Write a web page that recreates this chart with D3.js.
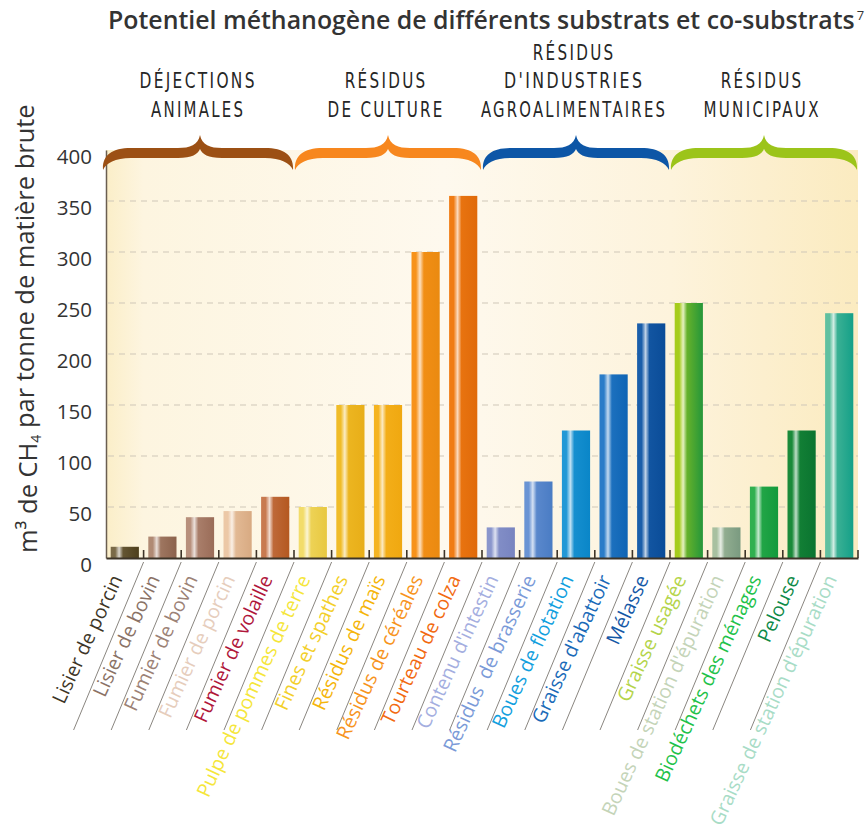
<!DOCTYPE html>
<html>
<head>
<meta charset="utf-8">
<script src="https://cdn.jsdelivr.net/npm/d3@7"></script>
<style>
  body { margin: 0; background: #fff; }
  svg { display: block; }
</style>
</head>
<body>
<svg id="chart" width="867" height="837"></svg>
<script>
// Substrates, in display order
const categories = [
  "Lisier de porcin", "Lisier de bovin", "Fumier de bovin", "Fumier de porcin", "Fumier de volaille",
  "Pulpe de pommes de terre", "Fines et spathes", "Résidus de maïs", "Résidus de céréales", "Tourteau de colza",
  "Contenu d'intestin", "Résidus\u00a0 de brasserie", "Boues de flotation", "Graisse d'abattoir", "Mélasse",
  "Graisse usagée", "Boues de station d'épuration", "Biodéchets des ménages", "Pelouse", "Graisse de station d'épuration"
];

// m³ CH4 per tonne of raw matter
const values = [11, 21, 40, 46, 60, 50, 150, 150, 300, 355, 30, 75, 125, 180, 230, 250, 30, 70, 125, 240];

// Bar fill: left tone and right tone of each cylinder-like bar
const barLeft = [
  "#7a6a48", "#b08a74", "#b8907c", "#ecc8a6", "#c87a50",
  "#f2dc6a", "#f0bc28", "#f5b420", "#f7921a", "#f07c14",
  "#8a96cc", "#6a94d4", "#2298d6", "#2a7cc8", "#1a5eaa",
  "#a6cc1c", "#a8c0a0", "#30b050", "#1a8a3a", "#60c0a0"
];
const barRight = [
  "#4d3f1c", "#8c624c", "#9a6c58", "#d8aa82", "#b45820",
  "#e8c840", "#e8ae18", "#f0a810", "#ea8a10", "#e06a0a",
  "#7884c0", "#4a7cc4", "#0a86c8", "#0e64b4", "#0a4c98",
  "#24963a", "#7a9a80", "#129a3c", "#0a7430", "#14a088"
];
const labelColors = [
  "#3d3526", "#8a7266", "#9c8276", "#e6cdbc", "#b0163a",
  "#f5e63a", "#f3cf2a", "#f5b50a", "#f7941d", "#f26a10",
  "#a4aee0", "#7a9ad8", "#12a0de", "#1a6ab8", "#1458a6",
  "#b4d44a", "#c4d4b8", "#1ec24a", "#0e8a48", "#a8dcc6"
];

// Substrate families (each spans five bars)
const groupLines = [
  ["DÉJECTIONS", "ANIMALES"],
  ["RÉSIDUS", "DE CULTURE"],
  ["RÉSIDUS", "D'INDUSTRIES", "AGROALIMENTAIRES"],
  ["RÉSIDUS", "MUNICIPAUX"]
];
const groupSize = [5, 5, 5, 5];
const groupColors = ["#9c5014", "#f7871e", "#0d56a6", "#9cc41a"];

const yTicks = [0, 50, 100, 150, 200, 250, 300, 350, 400];

const titleText = "Potentiel méthanogène de différents substrats et co-substrats";
const titleNote = "7";

// ---------------------------------------------------------------
const svg = d3.select("#chart");
const defs = svg.append("defs");
const plot = { left: 106, right: 858, top: 150, bottom: 558 };

const x = d3.scaleBand()
  .domain(categories)
  .range([plot.left, plot.right])
  .paddingInner(0.25)
  .paddingOuter(0.125);

const y = d3.scaleLinear().domain([0, 400]).range([plot.bottom, plot.top]);

const halfGap = x.step() * x.paddingInner() / 2;
const rightEdge = c => x(c) + x.bandwidth() + halfGap;
const leftEdge = c => x(c) - halfGap;

// Cream panel behind the bars
const bg = defs.append("linearGradient").attr("id", "panelBg")
  .attr("x1", 0).attr("x2", 1).attr("y1", 0).attr("y2", 0);
[[0, "#fbeec8"], [0.05, "#fdf5e0"], [0.45, "#fef9ee"], [0.75, "#fdf3dc"], [1, "#fbebc0"]]
  .forEach(([o, c]) => bg.append("stop").attr("offset", o).attr("stop-color", c));

svg.append("rect")
  .attr("x", plot.left).attr("y", y(400))
  .attr("width", plot.right - plot.left)
  .attr("height", y(0) - y(400))
  .attr("fill", "url(#panelBg)");

// Dashed gridlines
svg.append("g")
  .selectAll("line")
  .data(yTicks.filter(v => v > 0 && v < 400))
  .join("line")
  .attr("x1", plot.left + 2).attr("x2", plot.right)
  .attr("y1", d => y(d)).attr("y2", d => y(d))
  .attr("stroke", "#cfc7b8")
  .attr("stroke-width", 1)
  .attr("stroke-dasharray", "6,5");

// Bar gradients with a light highlight stripe
categories.forEach((c, i) => {
  const g = defs.append("linearGradient").attr("id", "bar" + i)
    .attr("x1", 0).attr("x2", 1).attr("y1", 0).attr("y2", 0);
  const l = barLeft[i], r = barRight[i];
  const hi = d3.interpolateRgb(l, "#ffffff")(0.72);
  const mid = d3.interpolateRgb(l, r)(0.5);
  [[0, l], [0.16, l], [0.3, hi], [0.44, mid], [1, r]]
    .forEach(([o, col]) => g.append("stop").attr("offset", o).attr("stop-color", col));
});

svg.append("g")
  .selectAll("rect")
  .data(categories)
  .join("rect")
  .attr("x", d => x(d))
  .attr("y", (d, i) => y(values[i]))
  .attr("width", x.bandwidth())
  .attr("height", (d, i) => y(0) - y(values[i]))
  .attr("fill", (d, i) => `url(#bar${i})`);

// Y axis
const yAxis = svg.append("g")
  .attr("transform", `translate(${plot.left},0)`)
  .call(d3.axisLeft(y).tickValues(yTicks).tickSize(0).tickSizeOuter(0).tickPadding(14));
yAxis.select(".domain").attr("stroke", "#6a5e50").attr("stroke-width", 1.5);
yAxis.selectAll("text")
  .attr("y", 7)
  .attr("fill", "#333")
  .style("font-family", "'Open Sans', sans-serif")
  .style("font-size", "20.5px");

// X axis with slanted labels
const xAxis = svg.append("g")
  .attr("transform", `translate(0,${plot.bottom})`)
  .call(d3.axisBottom(x).tickSize(0).tickSizeOuter(0));
xAxis.select(".domain").attr("stroke", "#3d3428").attr("stroke-width", 2);
xAxis.selectAll("text")
  .attr("x", 0).attr("y", 0).attr("dy", 0)
  .attr("transform", "translate(-2,21) rotate(-65)")
  .style("text-anchor", "end")
  .style("font-family", "'Open Sans', sans-serif")
  .style("font-size", "19.5px")
  .attr("fill", (d, i) => labelColors[i]);

// Small ticks between bars
svg.append("g")
  .selectAll("line")
  .data(categories)
  .join("line")
  .attr("x1", d => rightEdge(d)).attr("x2", d => rightEdge(d))
  .attr("y1", plot.bottom).attr("y2", plot.bottom - 8)
  .attr("stroke", "#3d3428").attr("stroke-width", 1.6);

// Slanted separators between labels
svg.append("g")
  .selectAll("line")
  .data(categories.slice(0, -1))
  .join("line")
  .attr("x1", d => rightEdge(d)).attr("y1", plot.bottom + 4)
  .attr("x2", d => rightEdge(d) - 70).attr("y2", plot.bottom + 172)
  .attr("stroke", "#8a8680").attr("stroke-width", 1);

// Braces and family names
const letterGap = 3;
let start = 0;
groupLines.forEach((lines, gi) => {
  const first = categories[start];
  const last = categories[start + groupSize[gi] - 1];
  start += groupSize[gi];
  const x0 = leftEdge(first) - (gi === 0 ? 3 : -1);
  const x1 = rightEdge(last) - 1;
  const cx = (leftEdge(first) + rightEdge(last)) / 2;
  const t = 148, b = 158, tip = 170, peak = 135, cusp = 149;
  const p = d3.path();
  p.moveTo(x0, tip);
  p.bezierCurveTo(x0 - 1, 156, x0 + 8, t, x0 + 28, t);
  p.lineTo(cx - 22, t);
  p.bezierCurveTo(cx - 10, t, cx - 2, t - 3, cx, peak);
  p.bezierCurveTo(cx + 2, t - 3, cx + 10, t, cx + 22, t);
  p.lineTo(x1 - 28, t);
  p.bezierCurveTo(x1 - 8, t, x1 + 1, 156, x1, tip);
  p.bezierCurveTo(x1 - 3, 163, x1 - 12, b, x1 - 28, b);
  p.lineTo(cx + 22, b);
  p.bezierCurveTo(cx + 8, b, cx + 2, b - 4, cx, cusp);
  p.bezierCurveTo(cx - 2, b - 4, cx - 8, b, cx - 22, b);
  p.lineTo(x0 + 28, b);
  p.bezierCurveTo(x0 + 12, b, x0 + 3, 163, x0, tip);
  p.closePath();
  svg.append("path").attr("d", p.toString()).attr("fill", groupColors[gi]);

  // Condensed, spaced capitals: each line squeezed horizontally to its width
  const baselines = lines.length === 3 ? [60, 88, 117] : [88, 117];
  lines.forEach((ln, li) => {
    const txt = svg.append("text")
      .attr("fill", "#262626")
      .style("font-family", "'Liberation Sans Narrow', 'DejaVu Sans Condensed', sans-serif")
      .style("font-size", "22px")
      .style("letter-spacing", letterGap + "px")
      .text(ln);
    const natural = txt.node().getComputedTextLength() - letterGap;
    const target = ln.length * 11.5;
    const s = target / natural;
    txt.attr("transform", `translate(${cx - 3 - target / 2},${baselines[li]}) scale(${s.toFixed(4)},1)`);
  });
});

// Y axis title, fitted to its vertical span
const yTitle = svg.append("text")
  .attr("transform", "translate(37,553) rotate(-90)")
  .attr("fill", "#333")
  .style("font-family", "'Open Sans', sans-serif")
  .style("font-size", "22px");
yTitle.append("tspan").text("m³ de CH");
yTitle.append("tspan").attr("dy", "0.3em").style("font-size", "14px").text("4");
yTitle.append("tspan").attr("dy", "-0.3em").text(" par tonne de matière brute");
const yLen = yTitle.node().getComputedTextLength();
yTitle.style("font-size", (22 * 450 / yLen).toFixed(2) + "px");

// Title, fitted to its width
const title = svg.append("text")
  .attr("x", 108).attr("y", 29)
  .attr("fill", "#333")
  .style("font-family", "'Open Sans', sans-serif")
  .style("font-weight", 600)
  .style("font-size", "24px");
title.append("tspan").text(titleText);
const measured = title.node().getComputedTextLength();
title.style("font-size", (24 * 747 / measured).toFixed(2) + "px");
title.append("tspan").attr("dx", 2).attr("dy", -9).style("font-size", "13px").style("font-weight", 400).text(titleNote);
</script>
</body>
</html>
